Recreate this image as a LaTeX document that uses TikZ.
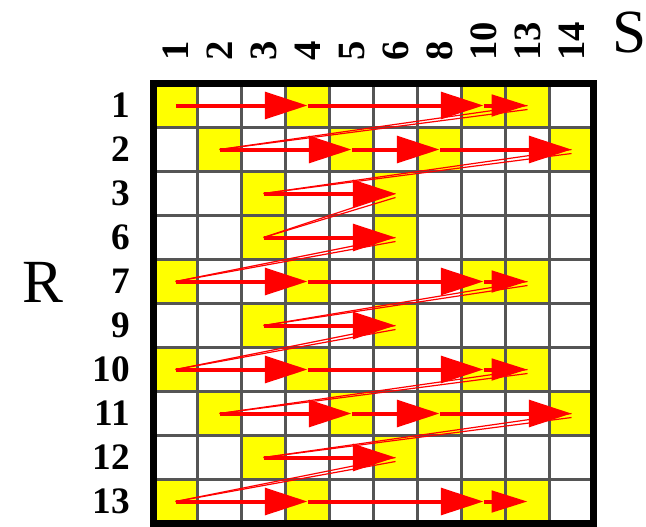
\documentclass[tikz,border=0pt]{standalone}
\usepackage{fontspec}
\setmainfont{Liberation Serif}
\usetikzlibrary{arrows.meta}
\definecolor{gridgray}{RGB}{85,85,85}
\definecolor{cellyellow}{RGB}{255,255,0}
\definecolor{arrred}{RGB}{255,0,0}
\begin{document}
\begin{tikzpicture}[x=0.75pt,y=-0.75pt,
  cell/.style={fill=cellyellow},
  gridline/.style={draw=gridgray,line width=1.9pt},
  frame/.style={draw=black,line width=5.25pt},
  rowlab/.style={anchor=east,inner sep=0pt,font=\bfseries\fontsize{28}{28}\selectfont},
  collab/.style={rotate=90,anchor=west,inner sep=0pt,font=\bfseries\fontsize{29}{29}\selectfont},
  biglab/.style={inner sep=0pt,font=\fontsize{46}{46}\selectfont},
  arr/.style={draw=arrred,line width=3pt,-{Triangle[length=32pt,width=20pt]}},
  sarr/.style={draw=arrred,line width=3pt,-{Triangle[length=27pt,width=16pt]}},
  diag/.style={draw=arrred,line width=0.9pt}]
\useasboundingbox (0,0) rectangle (646,526);
% yellow cells
\foreach \r/\cols in {0/{0,3,7,8},1/{1,4,6,9},2/{2,5},3/{2,5},4/{0,3,7,8},5/{2,5},6/{0,3,7,8},7/{1,4,6,9},8/{2,5},9/{0,3,7,8}}{
  \foreach \c in \cols {
    \path[cell] (153.5+44*\c,83.5+44*\r) rectangle ++(44,44);
  }
}
% grid
\foreach \i in {1,...,9}{
  \draw[gridline] (153.5+44*\i,83.5) -- ++(0,440);
  \draw[gridline] (153.5,83.5+44*\i) -- ++(440,0);
}
\draw[frame] (153.5,83.5) rectangle (593.5,523.5);
% cell centres
\foreach \r in {0,...,9}{
  \foreach \c in {0,...,9}{
    \coordinate (c\r-\c) at (175.5+44*\c,105.5+44*\r);
  }
}
% labels
\foreach \lab [count=\i from 0] in {1,2,3,6,7,9,10,11,12,13}
  \node[rowlab] (r\i) at (130,105.5+44*\i) {\lab};
\foreach \lab [count=\i from 0] in {1,2,3,4,5,6,8,10,13,14}
  \node[collab] (s\i) at (176+44*\i,61) {\lab};
\node[biglab] (R) at (43,282) {R};
\node[biglab] (S) at (630,32) {S};
% diagonals (row end to next row start)
\foreach \a/\b in {c0-8/c1-1,c1-9/c2-2,c2-5/c3-2,c3-5/c4-0,c4-8/c5-2,c5-5/c6-0,c6-8/c7-1,c7-9/c8-2,c8-5/c9-0}{
  \draw[diag] (\a) -- (\b);
  \draw[diag] ([yshift=-3pt]\a) -- (\b);
}
% row arrows
\foreach \r in {0,4,6,9}{
  \draw[arr] (c\r-0) -- (c\r-3);
  \draw[arr] (c\r-3) -- (c\r-7);
  \draw[sarr] (c\r-7) -- (c\r-8);
}
\foreach \r in {1,7}{
  \draw[arr] (c\r-1) -- (c\r-4);
  \draw[arr] (c\r-4) -- (c\r-6);
  \draw[arr] (c\r-6) -- (c\r-9);
}
\foreach \r in {2,3,5,8}{
  \draw[arr] (c\r-2) -- (c\r-5);
}
\end{tikzpicture}
\end{document}
